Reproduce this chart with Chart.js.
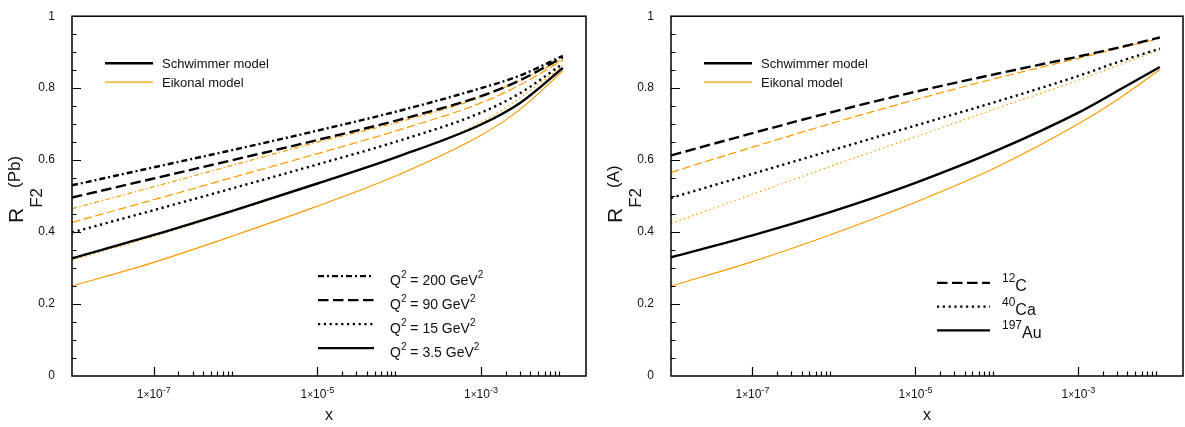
<!DOCTYPE html>
<html>
<head>
<meta charset="utf-8">
<script src="https://cdn.jsdelivr.net/npm/chart.js@4.4.1/dist/chart.umd.min.js"></script>
<style>
  html, body { margin: 0; padding: 0; background: #fff; }
  #wrap { position: relative; width: 1185px; height: 427px; }
  .panel { position: absolute; top: 0; height: 427px; }
</style>
</head>
<body>
<div id="wrap">
  <div class="panel" style="left:0;width:600px"><canvas id="pbChart"></canvas></div>
  <div class="panel" style="left:600px;width:585px"><canvas id="aChart"></canvas></div>
</div>
<script>
// ===== data =====
const xs = [1e-8, 1e-7, 1e-6, 1e-5, 1e-4, 1e-3, 3e-3, 1e-2];

// left: R_F2(Pb) for several Q^2
const pbSchw200 = [0.530, 0.580, 0.630, 0.682, 0.737, 0.800, 0.835, 0.890];
const pbSchw90  = [0.496, 0.549, 0.602, 0.656, 0.712, 0.778, 0.822, 0.886];
const pbSchw15  = [0.399, 0.461, 0.524, 0.588, 0.654, 0.732, 0.786, 0.868];
const pbSchw35  = [0.327, 0.392, 0.462, 0.535, 0.611, 0.699, 0.759, 0.856];
const pbEik200  = [0.465, 0.526, 0.588, 0.650, 0.706, 0.775, 0.822, 0.881];
const pbEik90   = [0.427, 0.490, 0.554, 0.618, 0.684, 0.759, 0.809, 0.878];
const pbEik15   = [0.322, 0.388, 0.459, 0.533, 0.612, 0.705, 0.773, 0.863];
const pbEik35   = [0.250, 0.316, 0.392, 0.472, 0.560, 0.669, 0.741, 0.848];

// right: R_F2(A) for three nuclei
const cSchw  = [0.613, 0.675, 0.735, 0.790, 0.840, 0.888, 0.912, 0.941];
const caSchw = [0.495, 0.562, 0.629, 0.696, 0.763, 0.834, 0.872, 0.910];
const auSchw = [0.330, 0.391, 0.459, 0.537, 0.627, 0.732, 0.792, 0.859];
const cEik   = [0.566, 0.636, 0.704, 0.768, 0.828, 0.883, 0.910, 0.938];
const caEik  = [0.424, 0.505, 0.586, 0.665, 0.744, 0.822, 0.863, 0.906];
const auEik  = [0.250, 0.318, 0.396, 0.483, 0.581, 0.701, 0.768, 0.852];

const xMajor = [1e-7, 1e-5, 1e-3];
const xExp = ['-7', '-5', '-3'];

const FONT = '"Liberation Sans", Arial, Helvetica, sans-serif';
const ORANGE = '#ff9a00';
const BLACK = '#000';

// line styles
const S = {
    bDashDot: [6, 3, 2, 3], bDash: [10.5, 4.5], bDot: [2.2, 3.6], bSolid: [],
    oDashDot: [5, 2.5, 1.5, 2.5], oDash: [8.5, 3.5], oDot: [1.5, 3], oSolid: []
};

function series(label, ys, color, width, dash) {
    return {
        label, data: xs.map((x, i) => ({ x, y: ys[i] })),
        borderColor: color, borderWidth: width, borderDash: dash,
        pointRadius: 0, fill: false, cubicInterpolationMode: 'monotone'
    };
}

function drawRich(ctx, parts, x, y, align) {
    let w = 0;
    parts.forEach(p => { ctx.font = p.size + 'px ' + FONT; p.w = ctx.measureText(p.t).width; w += p.w; });
    let cx = align === 'center' ? x - w / 2 : x;
    ctx.textAlign = 'left';
    ctx.textBaseline = 'alphabetic';
    parts.forEach(p => { ctx.font = p.size + 'px ' + FONT; ctx.fillText(p.t, cx, y + (p.dy || 0)); cx += p.w; });
}

function legendLine(ctx, x1, x2, y, color, width, dash) {
    ctx.save();
    ctx.strokeStyle = color; ctx.lineWidth = width; ctx.setLineDash(dash);
    ctx.beginPath(); ctx.moveTo(x1, y); ctx.lineTo(x2, y); ctx.stroke();
    ctx.restore();
}

// frame, inward ticks, x labels, titles and legends
const decorPlugin = {
    id: 'decor',
    afterDraw(chart, args, o) {
        const { ctx, chartArea: a, scales: { x, y } } = chart;
        ctx.save();
        ctx.strokeStyle = BLACK;
        ctx.lineWidth = 1.5;
        ctx.setLineDash([]);
        ctx.strokeRect(a.left, a.top, a.right - a.left, a.bottom - a.top);

        ctx.lineWidth = 1.2;
        ctx.beginPath();
        for (let k = 1; k < 20; k++) {
            const py = Math.round(y.getPixelForValue(k * 0.05)) + 0.5;
            ctx.moveTo(a.left, py); ctx.lineTo(a.left + (k % 4 === 0 ? 9 : 4.5), py);
        }
        xMajor.forEach(m => {
            for (let k = 1; k <= 9; k++) {
                const px = Math.round(x.getPixelForValue(m * k)) + 0.5;
                ctx.moveTo(px, a.bottom); ctx.lineTo(px, a.bottom - (k === 1 ? 9 : 4.5));
            }
        });
        ctx.stroke();

        ctx.fillStyle = '#111';
        xMajor.forEach((m, i) => {
            drawRich(ctx, [
                { t: '1', size: 12 }, { t: '×', size: 10 }, { t: '10', size: 12 },
                { t: xExp[i], size: 9, dy: -5 }
            ], x.getPixelForValue(m), 398, 'center');
        });
        drawRich(ctx, [{ t: 'x', size: 16 }], (a.left + a.right) / 2, 420, 'center');

        // y title, rotated
        ctx.save();
        ctx.translate(a.left - 49, 223);
        ctx.rotate(-Math.PI / 2);
        drawRich(ctx, [
            { t: 'R', size: 21 }, { t: 'F2', size: 17, dy: 19 }, { t: o.yTag, size: 17, dy: -3 }
        ], 0, 0, 'left');
        ctx.restore();

        // model legend
        legendLine(ctx, a.left + 33, a.left + 81, a.top + 47, BLACK, 2.4, []);
        legendLine(ctx, a.left + 33, a.left + 81, a.top + 66, ORANGE, 1.2, []);
        ctx.fillStyle = '#111';
        drawRich(ctx, [{ t: 'Schwimmer model', size: 13 }], a.left + 90, a.top + 52, 'left');
        drawRich(ctx, [{ t: 'Eikonal model', size: 13 }], a.left + 90, a.top + 71, 'left');

        // style legend
        const L = o.styleLegend;
        L.rows.forEach((r, i) => {
            const ly = a.top + L.top + i * L.step;
            legendLine(ctx, a.left + L.x1, a.left + L.x2, ly, BLACK, 2.2, r.dash);
            drawRich(ctx, r.parts, a.left + L.tx, ly + L.base, 'left');
        });
        ctx.restore();
    }
};

function makeOptions(yTag, styleLegend, padRight) {
    return {
        responsive: true, maintainAspectRatio: false, animation: false,
        layout: { padding: { top: 6, right: padRight, left: 0, bottom: 0 } },
        plugins: { legend: { display: false }, tooltip: { enabled: false }, decor: { yTag, styleLegend } },
        scales: {
            x: {
                type: 'logarithmic', min: 1e-8, max: 0.0192,
                grid: { display: false }, border: { display: false },
                ticks: { display: false },
                afterFit: s => { s.height = 51; }
            },
            y: {
                type: 'linear', min: 0, max: 1,
                grid: { display: false }, border: { display: false },
                ticks: {
                    stepSize: 0.2, padding: 9, color: '#111', font: { family: FONT, size: 12 },
                    callback: v => String(+v.toFixed(1))
                },
                afterFit: s => { s.width = yTag === '(Pb)' ? 72 : 71; }
            }
        }
    };
}

const q2 = (v) => [
    { t: 'Q', size: 14 }, { t: '2', size: 10, dy: -7 }, { t: ' = ' + v + ' GeV', size: 14 }, { t: '2', size: 10, dy: -7 }
];

new Chart(document.getElementById('pbChart'), {
    type: 'line',
    data: {
        datasets: [
            series('Schwimmer 200', pbSchw200, BLACK, 2.4, S.bDashDot),
            series('Schwimmer 90', pbSchw90, BLACK, 2.4, S.bDash),
            series('Schwimmer 15', pbSchw15, BLACK, 2.4, S.bDot),
            series('Schwimmer 3.5', pbSchw35, BLACK, 2.4, S.bSolid),
            series('Eikonal 200', pbEik200, ORANGE, 1.2, S.oDashDot),
            series('Eikonal 90', pbEik90, ORANGE, 1.2, S.oDash),
            series('Eikonal 15', pbEik15, ORANGE, 1.2, S.oDot),
            series('Eikonal 3.5', pbEik35, ORANGE, 1.2, S.oSolid)
        ]
    },
    options: makeOptions('(Pb)', {
        top: 260, step: 24, x1: 246, x2: 302, tx: 318, base: 9,
        rows: [
            { dash: S.bDashDot, parts: q2('200') },
            { dash: S.bDash, parts: q2('90') },
            { dash: S.bDot, parts: q2('15') },
            { dash: S.bSolid, parts: q2('3.5') }
        ]
    }, 14),
    plugins: [decorPlugin]
});

new Chart(document.getElementById('aChart'), {
    type: 'line',
    data: {
        datasets: [
            series('Schwimmer C', cSchw, BLACK, 2.4, S.bDash),
            series('Schwimmer Ca', caSchw, BLACK, 2.4, S.bDot),
            series('Schwimmer Au', auSchw, BLACK, 2.4, S.bSolid),
            series('Eikonal C', cEik, ORANGE, 1.2, S.oDash),
            series('Eikonal Ca', caEik, ORANGE, 1.2, S.oDot),
            series('Eikonal Au', auEik, ORANGE, 1.2, S.oSolid)
        ]
    },
    options: makeOptions('(A)', {
        top: 266.7, step: 23.7, x1: 266, x2: 319, tx: 331, base: 8,
        rows: [
            { dash: S.bDash, parts: [{ t: '12', size: 12, dy: -9 }, { t: 'C', size: 16 }] },
            { dash: S.bDot, parts: [{ t: '40', size: 12, dy: -9 }, { t: 'Ca', size: 16 }] },
            { dash: S.bSolid, parts: [{ t: '197', size: 12, dy: -9 }, { t: 'Au', size: 16 }] }
        ]
    }, 2),
    plugins: [decorPlugin]
});
</script>
</body>
</html>
